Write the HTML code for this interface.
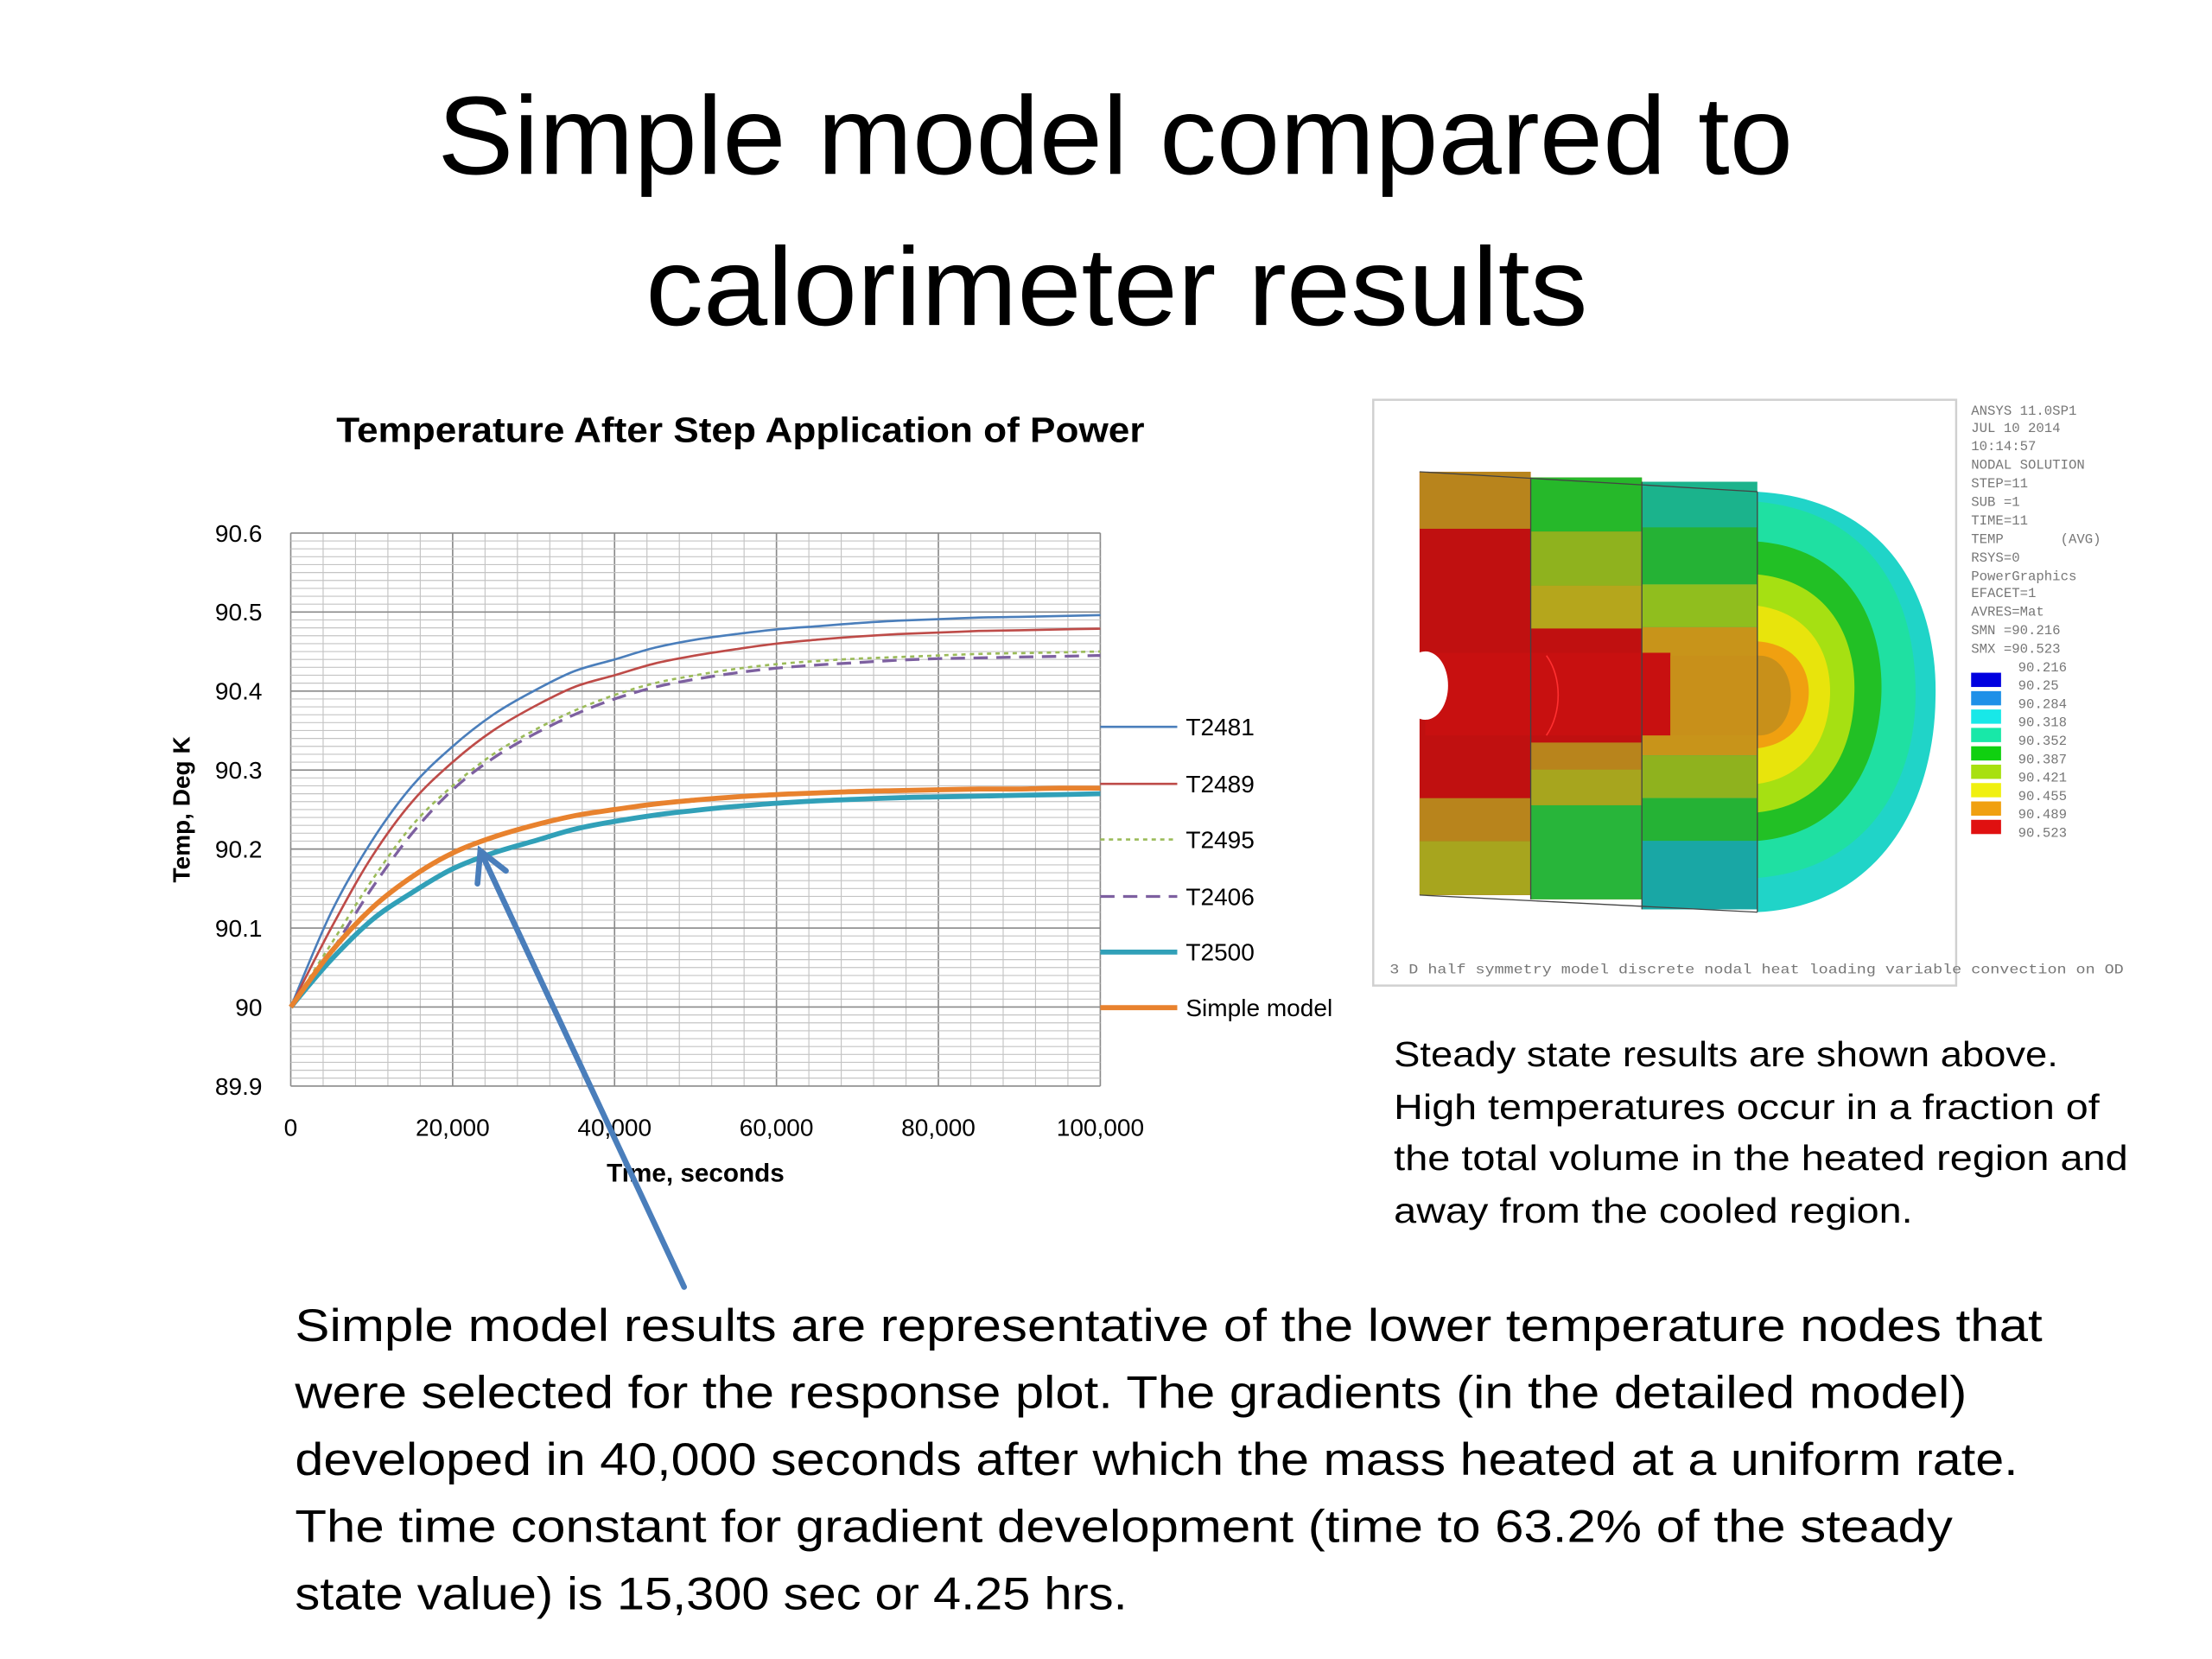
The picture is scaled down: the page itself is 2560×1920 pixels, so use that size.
<!DOCTYPE html>
<html><head><meta charset="utf-8"><style>
html,body{margin:0;padding:0;background:#fff;}
svg{display:block;}
text{font-family:"Liberation Sans",sans-serif;}
.mono text,text.mono{font-family:"Liberation Mono",monospace;}
</style></head><body>
<svg id="page" width="2560" height="1920" viewBox="0 0 1552 1164" xmlns="http://www.w3.org/2000/svg">
<rect width="1552" height="1164" fill="#fff"/>
<text x="307" y="122" font-size="78" textLength="951" lengthAdjust="spacingAndGlyphs" fill="#000">Simple model compared to</text>
<text x="453" y="228" font-size="78" textLength="661" lengthAdjust="spacingAndGlyphs" fill="#000">calorimeter results</text>

<text x="236" y="310" font-size="25" font-weight="bold" textLength="567" lengthAdjust="spacingAndGlyphs" fill="#000">Temperature After Step Application of Power</text>
<g id="grid"></g>
<g id="series"></g>
<g id="ticks"></g>
<text x="488" y="829" font-size="18" font-weight="bold" text-anchor="middle" fill="#000">Time, seconds</text>
<text transform="translate(133,568) rotate(-90)" font-size="17" font-weight="bold" text-anchor="middle" fill="#000">Temp, Deg K</text>
<g id="legend"></g>

<g>
<rect x="963.5" y="280.5" width="409" height="411" fill="#fff" stroke="#d0d0d0" stroke-width="1.5"/>
<g>
<rect x="996" y="331" width="78" height="297" fill="#c01010"/>
<rect x="996" y="331" width="78" height="40" fill="#b8841c"/>
<rect x="996" y="560" width="78" height="30" fill="#b8841c"/>
<rect x="996" y="590" width="78" height="38" fill="#a7a51e"/>
<rect x="1074" y="335" width="78" height="296" fill="#b8841c"/>
<rect x="1074" y="335" width="78" height="38" fill="#26b82a"/>
<rect x="1074" y="373" width="78" height="38" fill="#8fb21e"/>
<rect x="1074" y="411" width="78" height="30" fill="#b5a61c"/>
<rect x="1074" y="441" width="78" height="80" fill="#c01010"/>
<rect x="1074" y="540" width="78" height="25" fill="#a7a51e"/>
<rect x="1074" y="565" width="78" height="66" fill="#28b53a"/>
<rect x="1152" y="338" width="81" height="300" fill="#1bb38c"/>
<rect x="1152" y="370" width="81" height="40" fill="#25b235"/>
<rect x="1152" y="410" width="81" height="30" fill="#90be1e"/>
<rect x="1152" y="440" width="81" height="90" fill="#c8941a"/>
<rect x="1152" y="530" width="81" height="30" fill="#8fb21e"/>
<rect x="1152" y="560" width="81" height="30" fill="#25b235"/>
<rect x="1152" y="590" width="81" height="48" fill="#19a7a5"/>
<path d="M1233 345 C1325 350 1360 420 1358 490 C1357 565 1318 636 1233 640 Z" fill="#20d4c8"/>
<path d="M1233 352 C1318 360 1345 425 1344 490 C1343 550 1310 610 1233 616 Z" fill="#1fe0a2"/>
<path d="M1233 380 C1300 385 1322 440 1320 488 C1318 535 1295 585 1233 590 Z" fill="#22c025"/>
<path d="M1233 403 C1285 408 1303 450 1301 488 C1300 525 1283 565 1233 570 Z" fill="#a6e012"/>
<path d="M1233 425 C1270 430 1285 458 1284 488 C1283 515 1270 545 1233 550 Z" fill="#e8e40c"/>
<path d="M1233 450 C1260 452 1270 470 1269 488 C1268 505 1258 522 1233 525 Z" fill="#f0a010"/>
<rect x="1000" y="458" width="172" height="58" fill="#c81010"/>
<rect x="1172" y="460" width="62" height="56" fill="#c8901a"/>
<path d="M1234 460 C1264 460 1264 516 1234 516 Z" fill="#c8901a"/>
<path d="M1085 460 C1096 475 1096 500 1085 516" stroke="#ff3030" stroke-width="1" fill="none"/>
<ellipse cx="1000" cy="481" rx="16" ry="24" fill="#fff"/>
<path d="M996 331 L1233 345 M996 628 L1233 640 M1074 335 V631 M1152 338 V638 M1233 345 V640" stroke="#444" stroke-width="0.8" fill="none"/>
</g>
<g class="mono" style="font-family:'Liberation Mono',monospace" font-size="9.5" fill="#777">
<text x="1383" y="291">ANSYS 11.0SP1</text>
<text x="1383" y="303">JUL 10 2014</text>
<text x="1383" y="316">10:14:57</text>
<text x="1383" y="329">NODAL SOLUTION</text>
<text x="1383" y="342">STEP=11</text>
<text x="1383" y="355">SUB =1</text>
<text x="1383" y="368">TIME=11</text>
<text x="1383" y="381" xml:space="preserve">TEMP       (AVG)</text>
<text x="1383" y="394">RSYS=0</text>
<text x="1383" y="407">PowerGraphics</text>
<text x="1383" y="419">EFACET=1</text>
<text x="1383" y="432">AVRES=Mat</text>
<text x="1383" y="445">SMN =90.216</text>
<text x="1383" y="458">SMX =90.523</text>
</g>
<g id="fealeg" class="mono" font-size="9.5" fill="#777"></g>
<text class="mono" x="975" y="683" font-size="9.5" fill="#777" textLength="515" lengthAdjust="spacingAndGlyphs">3 D half symmetry model discrete nodal heat loading variable convection on OD</text>
</g>

<g font-size="25" fill="#000">
<text x="978" y="748" textLength="466" lengthAdjust="spacingAndGlyphs">Steady state results are shown above.</text>
<text x="978" y="785" textLength="495" lengthAdjust="spacingAndGlyphs">High temperatures occur in a fraction of</text>
<text x="978" y="821" textLength="515" lengthAdjust="spacingAndGlyphs">the total volume in the heated region and</text>
<text x="978" y="858" textLength="364" lengthAdjust="spacingAndGlyphs">away from the cooled region.</text>
</g>
<g font-size="32" fill="#000">
<text x="207" y="941" textLength="1226" lengthAdjust="spacingAndGlyphs">Simple model results are representative of the lower temperature nodes that</text>
<text x="207" y="988" textLength="1173" lengthAdjust="spacingAndGlyphs">were selected for the response plot. The gradients (in the detailed model)</text>
<text x="207" y="1035" textLength="1209" lengthAdjust="spacingAndGlyphs">developed in 40,000 seconds after which the mass heated at a uniform rate.</text>
<text x="207" y="1082" textLength="1163" lengthAdjust="spacingAndGlyphs">The time constant for gradient development (time to 63.2% of the steady</text>
<text x="207" y="1129" textLength="584" lengthAdjust="spacingAndGlyphs">state value) is 15,300 sec or 4.25 hrs.</text>
</g>
<g stroke="#4a7ebb" stroke-width="4" fill="none" stroke-linecap="round">
<path d="M480 903 L337 597"/>
<path d="M335 620 L337 597 L355 611"/>
</g>
</svg>
<script>
const times = [0,5000,10000,15000,20000,25000,30000,35000,40000,45000,50000,55000,60000,65000,70000,75000,80000,85000,90000,95000,100000];
const t2481 = [90,90.12,90.21,90.28,90.33,90.37,90.40,90.425,90.44,90.455,90.465,90.472,90.478,90.482,90.486,90.489,90.491,90.493,90.494,90.495,90.496];
const t2489 = [90,90.10,90.19,90.26,90.31,90.35,90.38,90.405,90.42,90.435,90.445,90.453,90.46,90.465,90.469,90.472,90.474,90.476,90.477,90.478,90.479];
const t2495 = [90,90.08,90.16,90.23,90.28,90.32,90.35,90.375,90.395,90.41,90.42,90.428,90.434,90.438,90.441,90.443,90.445,90.447,90.448,90.449,90.45];
const t2406 = [90,90.07,90.15,90.22,90.275,90.315,90.345,90.37,90.39,90.405,90.415,90.423,90.429,90.433,90.436,90.439,90.441,90.442,90.443,90.444,90.445];
const t2500 = [90,90.06,90.11,90.145,90.175,90.195,90.21,90.225,90.235,90.243,90.249,90.254,90.258,90.261,90.263,90.265,90.266,90.267,90.268,90.269,90.27];
const simpleModel = [90,90.07,90.125,90.165,90.195,90.215,90.23,90.242,90.25,90.257,90.262,90.266,90.269,90.271,90.273,90.274,90.275,90.276,90.276,90.277,90.277];
const yTicks = [89.9,90,90.1,90.2,90.3,90.4,90.5,90.6];
const yTickLabels = ["89.9","90","90.1","90.2","90.3","90.4","90.5","90.6"];
const xTicks = [0,20000,40000,60000,80000,100000];
const xTickLabels = ["0","20,000","40,000","60,000","80,000","100,000"];
const seriesNames = ["T2481","T2489","T2495","T2406","T2500","Simple model"];
const feaLevels = ["90.216","90.25","90.284","90.318","90.352","90.387","90.421","90.455","90.489","90.523"];

const NS="http://www.w3.org/2000/svg";
const X0=204,X1=772,Y0=762,Y1=374;
const xs=t=>X0+(t-0)/(100000)*(X1-X0);
const ys=v=>Y0-(v-89.9)/0.7*(Y0-Y1);
function mk(tag,attrs,parent){const e=document.createElementNS(NS,tag);for(const k in attrs)e.setAttribute(k,attrs[k]);parent.appendChild(e);return e;}
function smooth(P){let d='M'+P[0][0].toFixed(1)+' '+P[0][1].toFixed(1);
 for(let i=0;i<P.length-1;i++){const p0=P[Math.max(0,i-1)],p1=P[i],p2=P[i+1],p3=P[Math.min(P.length-1,i+2)];
  const c1=[p1[0]+(p2[0]-p0[0])/6,p1[1]+(p2[1]-p0[1])/6],c2=[p2[0]-(p3[0]-p1[0])/6,p2[1]-(p3[1]-p1[1])/6];
  d+=' C'+c1[0].toFixed(1)+' '+c1[1].toFixed(1)+' '+c2[0].toFixed(1)+' '+c2[1].toFixed(1)+' '+p2[0].toFixed(1)+' '+p2[1].toFixed(1);}
 return d;}
const grid=document.getElementById('grid');
for(let i=0;i<=25;i++){const t=i*4000;const major=(t%20000===0);
 const l=mk('line',{x1:xs(t),x2:xs(t),y1:Y1,y2:Y0,stroke:major?'#8a8a8a':'#c4c4c4','stroke-width':major?1:0.7},grid);
 
 }
for(let i=0;i<=70;i++){const v=89.9+i*0.01;const major=(i%10===0);
 const l=mk('line',{x1:X0,x2:X1,y1:ys(v),y2:ys(v),stroke:major?'#8a8a8a':'#c4c4c4','stroke-width':major?1:0.7},grid);
 
 }
const ticks=document.getElementById('ticks');
yTicks.forEach((v,i)=>{const t=mk('text',{x:184,y:ys(v)+6,'font-size':17,'text-anchor':'end',fill:'#000'},ticks);t.textContent=yTickLabels[i];
 
 });
xTicks.forEach((v,i)=>{const t=mk('text',{x:xs(v),y:797,'font-size':17,'text-anchor':'middle',fill:'#000'},ticks);t.textContent=xTickLabels[i];
 
 });
const styles=[
 {c:'#4a7ebb',w:1.6,d:''},{c:'#be4b48',w:1.6,d:''},{c:'#9bbb59',w:1.6,d:'3 3'},
 {c:'#7d60a0',w:2,d:'10 6'},{c:'#31a0b8',w:3.5,d:''},{c:'#e8822e',w:3.5,d:''}];
const data=[t2481,t2489,t2495,t2406,t2500,simpleModel];
const ser=document.getElementById('series');
const leg=document.getElementById('legend');
const legY=[510,550,589,629,668,707];
data.forEach((arr,k)=>{const P=arr.map((v,i)=>[xs(times[i]),ys(v)]);
 const p=mk('path',{d:smooth(P),fill:'none',stroke:styles[k].c,'stroke-width':styles[k].w,'stroke-linejoin':'round'},ser);
 if(styles[k].d)p.setAttribute('stroke-dasharray',styles[k].d);
 
 
 const y=legY[k];
 const l=mk('line',{x1:772,x2:826,y1:y,y2:y,stroke:styles[k].c,'stroke-width':styles[k].w},leg);
 if(styles[k].d)l.setAttribute('stroke-dasharray',styles[k].d);
 
 
 const t=mk('text',{x:832,y:y+6,'font-size':17,fill:'#000'},leg);t.textContent=seriesNames[k];
 
 });
const feaColors=['#0000e0','#1e90e8','#18e8e8','#18e8a8','#10d010','#a8e010','#f0f010','#f0a010','#e01010'];
const fl=document.getElementById('fealeg');
feaLevels.forEach((s,i)=>{const t=mk('text',{x:1416,y:471+i*12.9},fl);t.textContent=s;
 
 });
feaColors.forEach((c,i)=>{const r=mk('rect',{x:1383,y:472+i*12.9,width:21,height:10,fill:c},fl);
 
 });
</script>
</body></html>
